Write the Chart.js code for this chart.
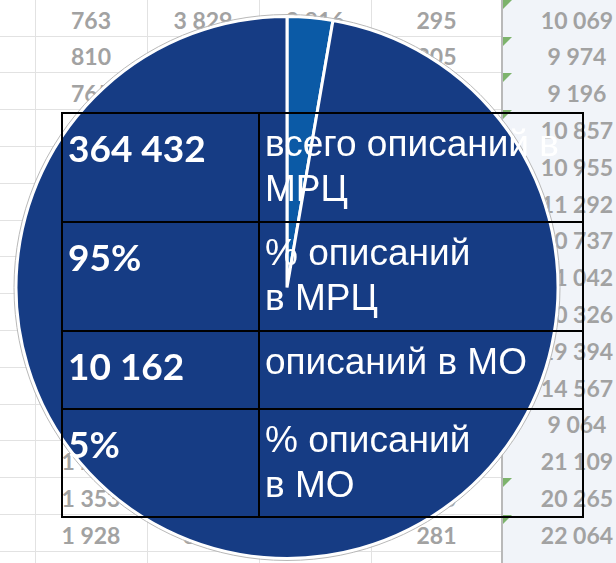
<!DOCTYPE html>
<html>
<head>
<meta charset="utf-8">
<script src="https://cdn.jsdelivr.net/npm/chart.js@4.4.1/dist/chart.umd.min.js"></script>
<style>
  html, body { margin: 0; padding: 0; }
  body { width: 616px; height: 563px; overflow: hidden; position: relative; background: #fff; }
  #sheet, #pie, #tbl { position: absolute; left: 0; top: 0; }
  #sheet { width: 616px; height: 563px; }
  .band { position: absolute; left: 502px; top: 0; width: 114px; height: 563px; background: #f1f4f9; }
  .hline { position: absolute; left: 0; width: 502px; height: 1px; background: #e2e2e2; }
  .vline { position: absolute; top: 0; width: 1px; height: 563px; background: #e2e2e2; }
  .sep { position: absolute; left: 501px; top: 0; width: 2px; height: 563px; background: #b9b9b9; }
  .num { position: absolute; font: bold 23px Lato, sans-serif; color: #a2a2a2; text-align: center; line-height: 26px; }
  .tri { position: absolute; left: 503px; width: 0; height: 0; border-top: 9px solid #7db36c; border-right: 9px solid transparent; }
  #tbl { width: 616px; height: 563px; pointer-events: none; }
  .frame { position: absolute; border: 2px solid #000; box-sizing: border-box; }
  .rule { position: absolute; background: #000; }
  .big { position: absolute; left: 68px; font: bold 37px Lato, sans-serif; color: #fff; line-height: 44px; white-space: nowrap; }
  .txt { position: absolute; left: 265px; font: 37px "Liberation Sans", Arial, sans-serif; color: #fff; line-height: 45px; white-space: nowrap; }
</style>
</head>
<body>
<div id="sheet"></div>
<canvas id="pie" width="616" height="563"></canvas>
<div id="tbl"></div>
<script>
// pie data
const labels = ['описаний в МО', 'описаний в МРЦ'];
const counts = [10162, 364432];
const sliceColors = ['#0b5aa6', '#163c84'];

// table text
const tableValues = ['364 432', '95%', '10 162', '5%'];
const tableLabels = [
  ['всего описаний в', 'МРЦ'],
  ['% описаний', 'в МРЦ'],
  ['описаний в МО'],
  ['% описаний', 'в МО']
];

// spreadsheet behind the chart (one row = 5 columns)
const sheetRows = [
  ['763', '3 829', '2 816', '295', '10 069'],
  ['810', '', '', '305', '9 974'],
  ['765', '', '', '', '9 196'],
  ['', '', '', '', '10 857'],
  ['', '', '', '', '10 955'],
  ['', '', '', '', '11 292'],
  ['', '', '', '', '10 737'],
  ['', '', '', '', '11 042'],
  ['', '', '', '', '10 326'],
  ['', '', '', '', '19 394'],
  ['', '', '', '', '14 567'],
  ['', '', '', '', '9 064'],
  ['1 247', '', '', '', '21 109'],
  ['1 353', '', '', '245', '20 265'],
  ['1 928', '842', '', '281', '22 064']
];

// ---- spreadsheet background ----
const sheet = document.getElementById('sheet');
const colEdges = [35, 147, 259, 371, 502, 652];
const rowH = 36.8, firstLine = 35.5;
let html = '<div class="band"></div>';
for (let k = -1; k < 15; k++) {
  html += `<div class="hline" style="top:${Math.round(firstLine + k * rowH)}px"></div>`;
}
colEdges.slice(0, 4).forEach(x => { html += `<div class="vline" style="left:${x}px"></div>`; });
html += '<div class="sep"></div>';
sheetRows.forEach((row, r) => {
  const bottom = firstLine + r * rowH;
  html += `<div class="tri" style="top:${Math.round(bottom - rowH + 1)}px"></div>`;
  row.forEach((v, c) => {
    if (!v) return;
    const left = colEdges[c], w = colEdges[c + 1] - colEdges[c];
    html += `<div class="num" style="left:${left}px;width:${w}px;top:${Math.round(bottom - 29)}px">${v}</div>`;
  });
});
sheet.innerHTML = html;

// ---- pie ----
const outline = {
  id: 'outline',
  afterDatasetsDraw(chart) {
    const arc = chart.getDatasetMeta(0).data[0];
    if (!arc) return;
    const ctx = chart.ctx;
    ctx.save();
    ctx.beginPath();
    ctx.arc(arc.x, arc.y, arc.outerRadius + 2, 0, Math.PI * 2);
    ctx.strokeStyle = '#b8b8b8';
    ctx.lineWidth = 1;
    ctx.stroke();
    ctx.restore();
  }
};

new Chart(document.getElementById('pie'), {
  type: 'pie',
  data: {
    labels: labels,
    datasets: [{
      data: counts,
      backgroundColor: sliceColors,
      borderColor: '#ffffff',
      borderWidth: 3
    }]
  },
  options: {
    responsive: false,
    animation: false,
    layout: { padding: { left: 0, right: 42, top: 15, bottom: 3 } },
    plugins: {
      legend: { display: false },
      tooltip: { enabled: false }
    }
  },
  plugins: [outline]
});

// ---- table overlay ----
const tbl = document.getElementById('tbl');
const rowTops = [113, 222, 331, 409, 517];
let t = `<div class="frame" style="left:61px;top:${rowTops[0] - 1}px;width:523px;height:${rowTops[4] - rowTops[0] + 2}px"></div>`;
t += `<div class="rule" style="left:258px;top:${rowTops[0]}px;width:2px;height:${rowTops[4] - rowTops[0]}px"></div>`;
for (let i = 1; i < 4; i++) {
  t += `<div class="rule" style="left:62px;top:${rowTops[i] - 1}px;width:521px;height:2px"></div>`;
}
tableValues.forEach((v, i) => {
  t += `<div class="big" style="top:${rowTops[i] + 49 - 36}px">${v}</div>`;
  tableLabels[i].forEach((line, j) => {
    t += `<div class="txt" style="top:${rowTops[i] + 44 - 36 + j * 45}px">${line}</div>`;
  });
});
tbl.innerHTML = t;
</script>
</body>
</html>
